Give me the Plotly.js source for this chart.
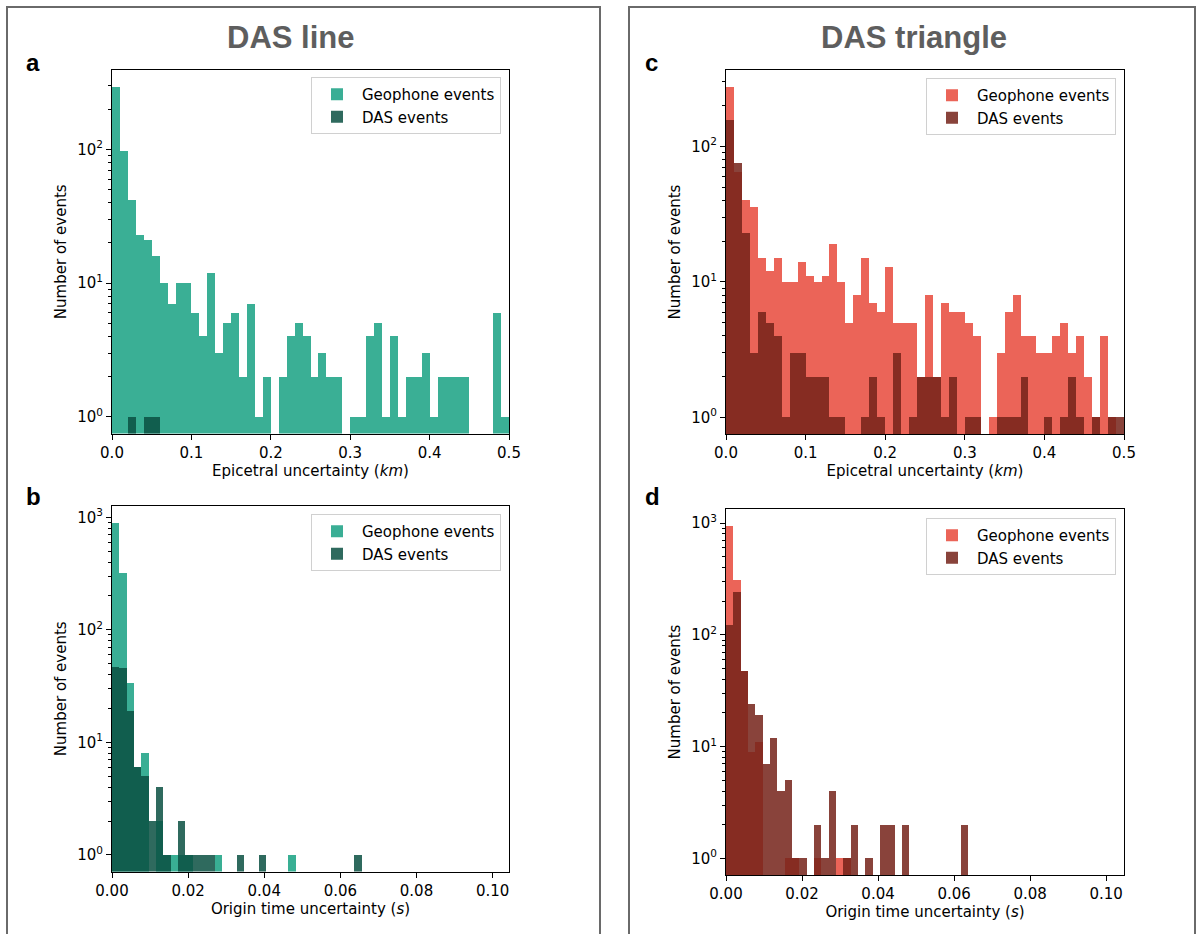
<!DOCTYPE html>
<html><head><meta charset="utf-8">
<script src="https://cdn.plot.ly/plotly-3.0.1.min.js"></script>
<style>html,body{margin:0;padding:0;background:#fff;} #chart{width:1202px;height:934px;}</style>
</head><body><div id="chart"></div>
<script>
// ---- data (histogram counts per bin) ----
const seriesNames = ['Geophone events', 'DAS events'];
const panelTitles = ['DAS line', 'DAS triangle'];
const panelLetters = ['a', 'b', 'c', 'd'];
const xTitles = ['Epicetral uncertainty (<i>km</i>)', 'Origin time uncertainty (<i>s</i>)'];
const yTitle = 'Number of events';

const epiBinWidth = 0.01;    // km
const otBinWidth = 0.00193;  // s

// a: DAS line, epicentral uncertainty
const lineGeoEpi = [295,98,42,23,21,16,10,7,10,10, 6,4,12,3,5,6,2,7,1,2, 0,2,4,5,4,2,3,2,2,0, 1,1,4,5,1,4,1,2,2,3, 1,2,2,2,2,0,0,0,6,1];
const lineDasEpi = [0,0,1,0,1,1,0,0,0,0, 0,0,0,0,0,0,0,0,0,0, 0,0,0,0,0,0,0,0,0,0, 0,0,0,0,0,0,0,0,0,0, 0,0,0,0,0,0,0,0,0,0];
// b: DAS line, origin time uncertainty
const lineGeoOT = [897,317,34,6,8,0,2,1,1,1, 1,0,0,0,1,0,0,0,0,0, 0,0,0,0,1,0,0,0,0,0, 0,0,0,0];
const lineDasOT = [47,46,19,6,5,2,4,1,0,2, 1,1,1,1,0,0,0,1,0,0, 1,0,0,0,0,0,0,0,0,0, 0,0,0,1];
// c: DAS triangle, epicentral uncertainty
const triGeoEpi = [277,65,40,36,15,12,15,10,10,14, 11,10,11,19,10,5,8,15,7,6, 13,5,5,5,2,8,2,7,6,6, 5,4,0,1,3,6,8,4,4,3, 3,4,5,3,4,2,1,4,1,0];
const triDasEpi = [157,76,23,3,6,5,4,1,3,3, 2,2,2,1,1,0,0,1,2,1, 0,3,0,1,2,2,2,1,2,0, 1,1,0,0,1,1,1,2,0,0, 1,0,1,2,1,0,1,0,1,1];
// d: DAS triangle, origin time uncertainty
const triGeoOT = [950,310,48,9,11,0,0,0,1,1, 0,0,1,0,0,1,1,0,0,0, 0,0,0,0,0,0,0,0,0,0, 0,0,0];
const triDasOT = [122,240,48,24,19,7,12,4,5,1, 1,0,2,1,4,0,1,2,0,1, 0,2,2,0,2,0,0,0,0,0, 0,0,2];

// ---- styles ----
const tealGeo = 'rgb(24,161,131)', tealDas = 'rgb(11,81,66)';
const redGeo = 'rgb(232,73,59)', redDas = 'rgb(117,35,25)';
const W = 1202, H = 934;
const fx = p => p / W, fy = p => 1 - p / H;

function centers(n, w) { return Array.from({length: n}, (_, i) => (i + 0.5) * w); }

const panels = [
  {geo: lineGeoEpi, das: lineDasEpi, w: epiBinWidth, cg: tealGeo, cd: tealDas, xr: [0, 0.5], dt: 0.1, fmt: '.1f', xt: 0,
   dom: {x: [112, 509], y: [70, 433.5]}, leg: {x: 501, y: 77}, letter: {x: 24, y: 62}},
  {geo: lineGeoOT, das: lineDasOT, w: otBinWidth, cg: tealGeo, cd: tealDas, xr: [0, 0.1043], dt: 0.02, fmt: '.2f', xt: 1,
   dom: {x: [112, 509], y: [506, 871.5]}, leg: {x: 501, y: 514}, letter: {x: 24, y: 496}},
  {geo: triGeoEpi, das: triDasEpi, w: epiBinWidth, cg: redGeo, cd: redDas, xr: [0, 0.5], dt: 0.1, fmt: '.1f', xt: 0,
   dom: {x: [726, 1124], y: [70, 434]}, leg: {x: 1116, y: 78}, letter: {x: 643, y: 62}},
  {geo: triGeoOT, das: triDasOT, w: otBinWidth, cg: redGeo, cd: redDas, xr: [0, 0.1047], dt: 0.02, fmt: '.2f', xt: 1,
   dom: {x: [726, 1124], y: [509, 875]}, leg: {x: 1116, y: 518}, letter: {x: 643, y: 496}}
];

const font = 'DejaVu Sans, sans-serif';
const traces = [];
const layout = {
  width: W, height: H, margin: {l: 0, r: 0, t: 0, b: 0},
  paper_bgcolor: '#fff', plot_bgcolor: '#fff',
  barmode: 'overlay', bargap: 0, showlegend: true,
  font: {family: font, size: 15, color: '#000'},
  shapes: [], annotations: []
};

const minorVals = [];
[1, 10, 100].forEach(d => { for (let k = 2; k <= 9; k++) minorVals.push(k * d); });

panels.forEach((p, i) => {
  const n = i + 1;
  const xa = n === 1 ? 'x' : 'x' + n, ya = n === 1 ? 'y' : 'y' + n;
  const yMinor = 'y' + (n + 4);
  const legName = n === 1 ? 'legend' : 'legend' + n;
  [[p.geo, p.cg, seriesNames[0]], [p.das, p.cd, seriesNames[1]]].forEach(([vals, col, name]) => {
    traces.push({
      type: 'bar', x: centers(vals.length, p.w), y: vals, width: p.w,
      marker: {color: col, line: {width: 0}}, opacity: 0.85, name: name,
      xaxis: xa, yaxis: ya, legend: legName, hoverinfo: 'x+y'
    });
  });
  // empty helper trace so the minor-tick overlay axis is drawn
  traces.push({type: 'scatter', x: [], y: [], xaxis: xa, yaxis: yMinor, showlegend: false, hoverinfo: 'skip'});

  const L = Math.log10(Math.max(...p.geo, ...p.das));
  const yr = [-0.05 * L, 1.05 * L];
  const axCommon = {
    showline: true, mirror: true, linecolor: '#000', linewidth: 1,
    ticks: 'outside', ticklen: 5, tickwidth: 1, tickcolor: '#000',
    showgrid: false, zeroline: false, tickfont: {family: font, size: 15, color: '#000'}
  };
  layout[n === 1 ? 'xaxis' : 'xaxis' + n] = Object.assign({}, axCommon, {
    domain: [fx(p.dom.x[0]), fx(p.dom.x[1])], anchor: ya, range: p.xr,
    tickmode: 'linear', tick0: 0, dtick: p.dt, tickformat: p.fmt,
    title: {text: xTitles[p.xt], font: {family: font, size: 15, color: '#000'}, standoff: 4}
  });
  layout[n === 1 ? 'yaxis' : 'yaxis' + n] = Object.assign({}, axCommon, {
    domain: [fy(p.dom.y[1]), fy(p.dom.y[0])], anchor: xa, type: 'log', range: yr,
    tickmode: 'array', tickvals: [1, 10, 100, 1000],
    ticktext: ['10<sup>0</sup>', '10<sup>1</sup>', '10<sup>2</sup>', '10<sup>3</sup>'],
    title: {text: yTitle, font: {family: font, size: 15, color: '#000'}, standoff: 6}
  });
  layout['yaxis' + (n + 4)] = {
    overlaying: ya, anchor: xa, side: 'left', type: 'log', range: yr,
    domain: [fy(p.dom.y[1]), fy(p.dom.y[0])],
    tickmode: 'array', tickvals: minorVals, ticks: 'outside', ticklen: 3, tickwidth: 1, tickcolor: '#000',
    showticklabels: false, showline: false, showgrid: false, zeroline: false
  };
  layout[legName] = {
    x: fx(p.leg.x), y: fy(p.leg.y), xanchor: 'right', yanchor: 'top',
    bgcolor: 'rgba(255,255,255,0.8)', bordercolor: '#d0d0d0', borderwidth: 1,
    font: {family: font, size: 15, color: '#000'}, itemwidth: 40
  };
  layout.annotations.push({
    text: '<b>' + panelLetters[i] + '</b>', xref: 'paper', yref: 'paper',
    x: fx(p.letter.x), y: fy(p.letter.y), xanchor: 'left', yanchor: 'middle',
    showarrow: false, font: {family: 'Liberation Sans, Arial, sans-serif', size: 24, color: '#000'}
  });
});

// panel titles and outer frames
[[7, 600, 290], [629, 1195, 914]].forEach((b, j) => {
  layout.shapes.push({type: 'rect', xref: 'paper', yref: 'paper', x0: fx(b[0]), x1: fx(b[1]), y0: -0.05, y1: fy(7),
    line: {color: '#6a6a6a', width: 2}, fillcolor: 'rgba(0,0,0,0)', layer: 'below'});
  layout.annotations.push({
    text: '<b>' + panelTitles[j] + '</b>', xref: 'paper', yref: 'paper',
    x: fx(b[2]), y: fy(38), xanchor: 'center', yanchor: 'middle', showarrow: false,
    font: {family: 'Liberation Sans, Arial, sans-serif', size: 31, color: '#5e5e5e'}
  });
});

Plotly.newPlot('chart', traces, layout, {displayModeBar: false, staticPlot: true});
</script></body></html>
